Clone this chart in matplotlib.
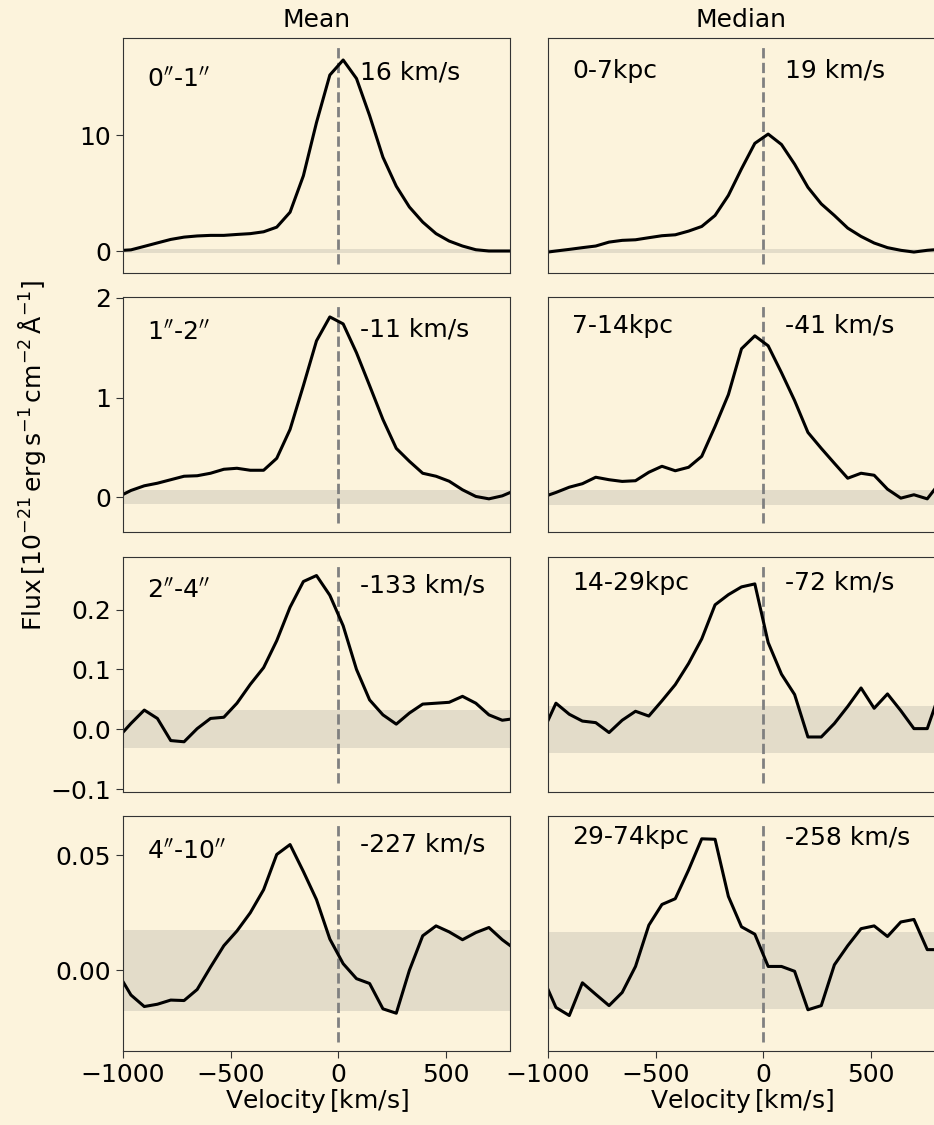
import matplotlib.pyplot as plt

# velocity grid (km/s)
velocity = [-1025, -963, -901, -840, -778, -716, -655, -593, -531, -470,
            -408, -346, -285, -223, -161, -100, -38, 24, 86, 147,
            209, 271, 332, 394, 456, 517, 579, 641, 702, 764, 826]

# mean profiles
mean_0_1 = [0.03, 0.1, 0.4, 0.7, 1.0, 1.2, 1.3, 1.35, 1.35, 1.43,
            1.5, 1.66, 2.06, 3.35, 6.5, 11.1, 15.2, 16.5, 14.9, 11.7,
            8.1, 5.6, 3.8, 2.5, 1.5, 0.86, 0.43, 0.11, 0.0, 0.0, 0.0]
mean_1_2 = [0.0, 0.067, 0.114, 0.14, 0.175, 0.21, 0.215, 0.24, 0.28, 0.29,
            0.27, 0.27, 0.39, 0.68, 1.12, 1.57, 1.81, 1.74, 1.45, 1.12,
            0.78, 0.49, 0.36, 0.24, 0.21, 0.16, 0.074, 0.007, -0.017, 0.013, 0.07]
mean_2_4 = [-0.015, 0.0096, 0.032, 0.018, -0.019, -0.021, 0.001, 0.018, 0.02, 0.0435,
            0.075, 0.103, 0.148, 0.204, 0.247, 0.257, 0.224, 0.173, 0.1, 0.049,
            0.024, 0.0085, 0.027, 0.042, 0.0435, 0.045, 0.055, 0.0435, 0.024, 0.015, 0.018]
mean_4_10 = [-0.001, -0.0107, -0.0157, -0.0147, -0.0129, -0.0131, -0.0083, 0.0014, 0.0107, 0.0171,
             0.025, 0.035, 0.0503, 0.0546, 0.0429, 0.0307, 0.0136, 0.0029, -0.0036, -0.0057,
             -0.0167, -0.0186, 0.0, 0.015, 0.0193, 0.0167, 0.0133, 0.0164, 0.0186, 0.0133, 0.009]

# median profiles
med_0_7 = [-0.15, 0.0, 0.14, 0.29, 0.43, 0.77, 0.92, 0.97, 1.15, 1.32,
           1.4, 1.72, 2.12, 3.07, 4.8, 7.1, 9.3, 10.1, 9.2, 7.5,
           5.5, 4.07, 3.07, 1.98, 1.26, 0.69, 0.29, 0.06, -0.09, 0.06, 0.15]
med_7_14 = [0.0, 0.047, 0.10, 0.135, 0.2, 0.175, 0.158, 0.165, 0.25, 0.31,
            0.265, 0.30, 0.41, 0.71, 1.03, 1.49, 1.62, 1.52, 1.25, 0.97,
            0.65, 0.49, 0.34, 0.19, 0.24, 0.22, 0.08, -0.01, 0.024, -0.017, 0.155]
med_14_29 = [-0.005, 0.0435, 0.025, 0.0136, 0.011, -0.0056, 0.015, 0.030, 0.022, 0.0475,
             0.0746, 0.11, 0.151, 0.208, 0.225, 0.238, 0.243, 0.145, 0.092, 0.058,
             -0.013, -0.013, 0.0096, 0.038, 0.069, 0.035, 0.059, 0.031, 0.001, 0.001, 0.065]
med_29_74 = [-0.003, -0.0161, -0.0196, -0.0054, -0.0104, -0.0153, -0.0096, 0.0017, 0.0196, 0.0286,
             0.0311, 0.0436, 0.0571, 0.0569, 0.0321, 0.0189, 0.0157, 0.0017, 0.0017, -0.0004,
             -0.0171, -0.0153, 0.0024, 0.0107, 0.0181, 0.0193, 0.0147, 0.021, 0.0221, 0.009, 0.009]

mean_profiles = [mean_0_1, mean_1_2, mean_2_4, mean_4_10]
median_profiles = [med_0_7, med_7_14, med_14_29, med_29_74]

mean_labels = ["0$''$-1$''$", "1$''$-2$''$", "2$''$-4$''$", "4$''$-10$''$"]
median_labels = ["0-7kpc", "7-14kpc", "14-29kpc", "29-74kpc"]
mean_shifts = ["16 km/s", "-11 km/s", "-133 km/s", "-227 km/s"]
median_shifts = ["19 km/s", "-41 km/s", "-72 km/s", "-258 km/s"]

# noise level (1 sigma band)
mean_noise = [0.2, 0.07, 0.032, 0.0175]
median_noise = [0.2, 0.075, 0.039, 0.0166]

ylims = [(-1.9, 18.4), (-0.35, 2.01), (-0.105, 0.288), (-0.035, 0.067)]
yticks = [[0, 10], [0, 1, 2], [-0.1, 0.0, 0.1, 0.2], [0.0, 0.05]]
yfmt = ["{:.0f}", "{:.0f}", "{:.1f}", "{:.2f}"]

# label heights (axes fraction)
mean_label_y = [0.82, 0.847, 0.855, 0.847]
mean_shift_y = [0.855, 0.86, 0.88, 0.88]
median_label_y = [0.86, 0.877, 0.89, 0.91]
median_shift_y = [0.86, 0.877, 0.89, 0.91]

BG = "#fcf3dc"
FS = 18

fig = plt.figure(figsize=(9.34, 11.25), dpi=100, facecolor=BG)

col_left = [123 / 934, 548 / 934]
row_top = [38, 297, 557, 816]
w = 387 / 934
h = 235 / 1125

columns = [
    (mean_profiles, mean_labels, mean_shifts, mean_noise, mean_label_y, mean_shift_y),
    (median_profiles, median_labels, median_shifts, median_noise, median_label_y, median_shift_y),
]

for c, (profiles, labels, shifts, noise, lab_y, sh_y) in enumerate(columns):
    for r in range(4):
        bottom = 1 - (row_top[r] + 235) / 1125
        ax = fig.add_axes([col_left[c], bottom, w, h])
        ax.set_facecolor("none")
        ax.axhspan(-noise[r], noise[r], color="gray", alpha=0.2, lw=0)
        ax.axvline(0, ymin=0.04, ymax=0.96, color="gray", ls="--", lw=2)
        ax.plot(velocity, profiles[r], color="black", lw=2.2)
        ax.set_xlim(-1000, 800)
        ax.set_ylim(*ylims[r])
        ax.text(0.062, lab_y[r], labels[r], transform=ax.transAxes,
                fontsize=FS, va="center", ha="left")
        ax.text(0.613, sh_y[r], shifts[r], transform=ax.transAxes,
                fontsize=FS, va="center", ha="left")
        for s in ax.spines.values():
            s.set_color("#333333")
        ax.tick_params(labelsize=FS, length=5, color="#333333")
        if c == 0:
            ax.set_yticks(yticks[r])
            ax.set_yticklabels([yfmt[r].format(t).replace("-", "\u2212") for t in yticks[r]])
        else:
            ax.set_yticks([])
        if r == 3:
            ax.set_xticks([-1000, -500, 0, 500])
            ax.set_xlabel("Velocity$\\,$[km/s]", fontsize=FS, labelpad=0)
        else:
            ax.set_xticks([])
        if r == 0:
            ax.set_title(["Mean", "Median"][c], fontsize=FS, pad=8)

fig.text(0.034, 1 - 455 / 1125,
         "Flux$\\,[10^{-21}\\,\\mathrm{erg\\,s^{-1}\\,cm^{-2}\\,\\AA^{-1}}]$",
         rotation=90, fontsize=FS, va="center", ha="center")

fig.savefig("out.png", dpi=100, facecolor=BG)
